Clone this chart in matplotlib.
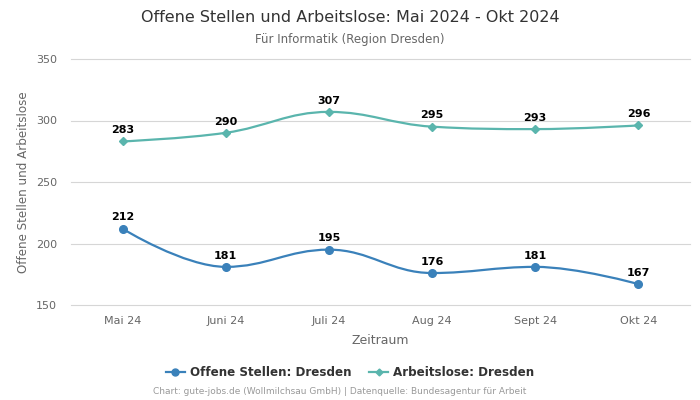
import matplotlib
matplotlib.use("Agg")
import matplotlib.pyplot as plt
from matplotlib.path import Path
from matplotlib.patches import PathPatch
from matplotlib.lines import Line2D
import numpy as np

categories = ["Mai 24", "Juni 24", "Juli 24", "Aug 24", "Sept 24", "Okt 24"]
offene = [212, 181, 195, 176, 181, 167]
arbeitslose = [283, 290, 307, 295, 293, 296]
yticks = [150, 200, 250, 300, 350]

c_off = "#3a81ba"
c_arb = "#5ab5ad"


def spline_path(xs, ys):
    n = len(xs)
    lc = [None] * n
    rc = [None] * n
    sm = 1.5
    den = sm + 1
    for i in range(n):
        x, y = xs[i], ys[i]
        if i == 0 or i == n - 1:
            lc[i] = (x, y)
            rc[i] = (x, y)
            continue
        lx, ly = xs[i - 1], ys[i - 1]
        nx, ny = xs[i + 1], ys[i + 1]
        lcx = (sm * x + lx) / den
        lcy = (sm * y + ly) / den
        rcx = (sm * x + nx) / den
        rcy = (sm * y + ny) / den
        corr = ((rcy - lcy) * (rcx - x)) / (rcx - lcx) + y - rcy
        lcy += corr
        rcy += corr
        if lcy > ly and lcy > y:
            lcy = max(ly, y)
            rcy = 2 * y - lcy
        elif lcy < ly and lcy < y:
            lcy = min(ly, y)
            rcy = 2 * y - lcy
        if rcy > ny and rcy > y:
            rcy = max(ny, y)
            lcy = 2 * y - rcy
        elif rcy < ny and rcy < y:
            rcy = min(ny, y)
            lcy = 2 * y - rcy
        lc[i] = (lcx, lcy)
        rc[i] = (rcx, rcy)
    verts = [(xs[0], ys[0])]
    codes = [Path.MOVETO]
    for i in range(1, n):
        verts += [rc[i - 1], lc[i], (xs[i], ys[i])]
        codes += [Path.CURVE4] * 3
    return Path(verts, codes)


fig = plt.figure(figsize=(7, 4), dpi=100)
ax = fig.add_axes([71 / 700, 1 - 305 / 400, 619 / 700, 246 / 400])
x = np.arange(len(categories))

for data, col, mk, ms in [(offene, c_off, "o", 5.5), (arbeitslose, c_arb, "D", 3.8)]:
    p = spline_path(list(x.astype(float)), list(map(float, data)))
    ax.add_patch(PathPatch(p, facecolor="none", edgecolor=col, lw=1.6, zorder=3))
    ax.plot(x, data, linestyle="none", marker=mk, color=col, ms=ms, zorder=4)
    for xi, v in zip(x, data):
        ax.annotate(str(v), (xi, v), xytext=(0, 4.5), textcoords="offset points",
                    ha="center", va="bottom", fontsize=8, fontweight="bold",
                    color="#000000", zorder=5)

ax.set_xlim(-0.5, len(categories) - 0.5)
ax.set_ylim(150, 350)
ax.set_yticks(yticks)
ax.set_xticks(x)
ax.set_xticklabels(categories)
ax.grid(axis="y", color="#d6d6d6", lw=0.8)
for gl in ax.get_ygridlines():
    gl.set_clip_on(False)
ax.set_axisbelow(True)
for s in ax.spines.values():
    s.set_visible(False)
ax.tick_params(axis="both", length=0, labelsize=8, colors="#666666")
ax.tick_params(axis="y", pad=10)
ax.tick_params(axis="x", pad=8)
ax.set_xlabel("Zeitraum", fontsize=9, color="#666666", labelpad=6)
ax.set_ylabel("Offene Stellen und Arbeitslose", fontsize=8.6, color="#666666", labelpad=4)

fig.text(0.5, 1 - 17 / 400, "Offene Stellen und Arbeitslose: Mai 2024 - Okt 2024",
         ha="center", va="center", fontsize=11.5, color="#333333")
fig.text(0.5, 1 - 39 / 400, "Für Informatik (Region Dresden)",
         ha="center", va="center", fontsize=8.5, color="#666666")

handles = [
    Line2D([0], [0], color=c_off, marker="o", ms=5, lw=1.6),
    Line2D([0], [0], color=c_arb, marker="D", ms=3.5, lw=1.6),
]
leg = fig.legend(handles, ["Offene Stellen: Dresden", "Arbeitslose: Dresden"],
                 loc="center", bbox_to_anchor=(0.5, 1 - 373 / 400), ncol=2,
                 frameon=False, fontsize=8.6, handlelength=1.6, columnspacing=1.5,
                 handletextpad=0.4)
for t in leg.get_texts():
    t.set_fontweight("bold")
    t.set_color("#333333")

fig.text(340 / 700, 1 - 392 / 400,
         "Chart: gute-jobs.de (Wollmilchsau GmbH) | Datenquelle: Bundesagentur für Arbeit",
         ha="center", va="center", fontsize=6.5, color="#999999")

fig.savefig("out.png", dpi=100)
